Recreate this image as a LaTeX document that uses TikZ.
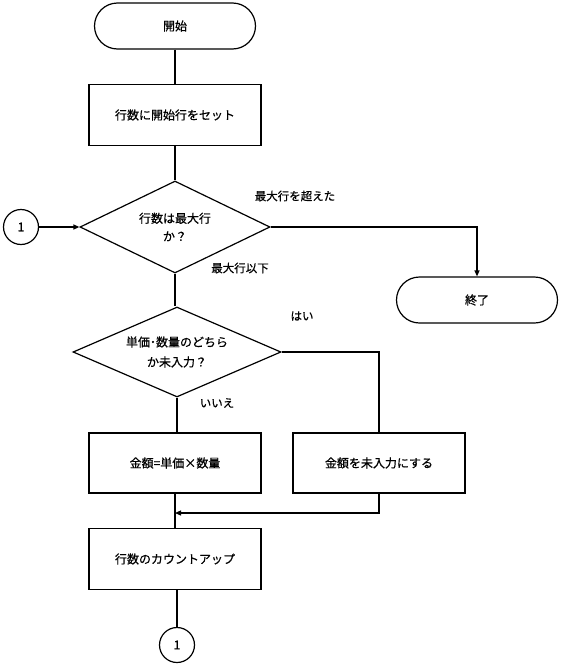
\documentclass[tikz,border=0pt]{standalone}
\usepackage{fontspec}
\setmainfont{Noto Sans CJK JP}[FakeBold=0.6]
\usetikzlibrary{shapes.geometric,arrows.meta,calc}
\begin{document}
\begin{tikzpicture}[x=1pt,y=-1pt,
  line width=1.2pt,
  every node/.style={font=\fontsize{12}{18}\selectfont, align=center, inner sep=0pt},
  term/.style={draw, rectangle, rounded corners=23pt, minimum width=161pt, minimum height=46pt},
  proc/.style={draw, rectangle, minimum width=172pt, minimum height=60pt},
  decide/.style={draw, diamond, aspect=2.3, minimum width=190pt, minimum height=92pt},
  conn/.style={draw, circle, minimum size=35pt},
  lbl/.style={font=\fontsize{11.5}{13}\selectfont},
  arr/.style={-{Triangle[length=6pt,width=5pt]}}
]
\useasboundingbox (0,0) rectangle (561,664);
\fill[white] (0,0) rectangle (561,664);

\node[term] (start) at (175,26) {開始};
\node[proc, minimum height=61pt] (box1) at (175,115) {行数に開始行をセット};
\node[decide] (d1) at (175,227) {行数は最大行\\か？};
\node[conn] (c1) at (21,227) {1};
\node[term] (end) at (477,300) {終了};
\node[decide, minimum width=208pt, minimum height=90pt, font=\fontsize{12}{20}\selectfont] (d2) at (177,352) {単価･数量のどちら\\か未入力？};
\node[proc] (box2) at (175,463) {金額=単価×数量};
\node[proc] (box3) at (379,463) {金額を未入力にする};
\node[proc, minimum height=61pt] (box4) at (175,559) {行数のカウントアップ};
\node[conn] (c2) at (177,645) {1};
\coordinate (join) at (175,513);

\node[lbl] (l1) at (295,196) {最大行を超えた};
\node[lbl] (l2) at (240,268) {最大行以下};
\node[lbl] (l3) at (302,316) {はい};
\node[lbl] (l4) at (217,403) {いいえ};

\draw (start) -- (box1);
\draw (box1) -- (d1);
\draw[arr] (c1) -- (d1.west);
\draw[arr] (d1.east) -| (end.north);
\draw (d1.south) -- (d1.south |- d2.north);
\draw (d2.east) -| (box3.north);
\draw (d2.south) -- (d2.south |- box2.north);
\draw (box2.south) -- (box4.north);
\draw[arr] (box3.south) |- (join);
\draw (box4.south -| c2) -- (c2.north);
\end{tikzpicture}
\end{document}
